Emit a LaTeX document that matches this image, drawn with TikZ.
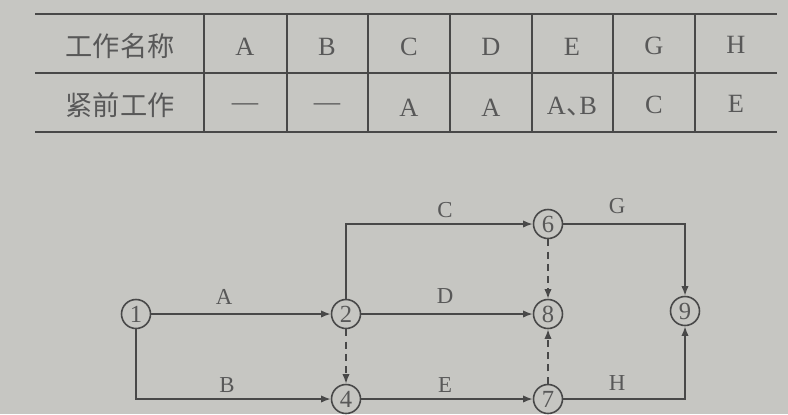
\documentclass[tikz,border=0pt]{standalone}
\usepackage{fontspec}
\setmainfont{Liberation Serif}
\newfontfamily\cjk{Noto Sans CJK SC}
\usetikzlibrary{arrows.meta}
\definecolor{bgc}{RGB}{198,198,194}
\definecolor{ink}{RGB}{72,72,72}
\definecolor{txt}{RGB}{88,88,88}
\tikzset{
  evt/.style={circle,draw=ink,line width=0.9pt,minimum size=0.58cm,inner sep=0pt,text=txt,font=\fontsize{14}{14}\selectfont},
  act/.style={draw=ink,line width=0.9pt,-{Latex[length=5.5pt,width=4.2pt]}},
  dum/.style={act,dash pattern=on 4pt off 3pt},
  lbl/.style={text=txt,font=\fontsize{13}{13}\selectfont,inner sep=0pt},
  cell/.style={text=txt,font=\fontsize{15}{15}\selectfont,inner sep=0pt},
  head/.style={text=txt,font=\cjk\fontsize{15.5}{15.5}\selectfont,inner sep=0pt},
  grid/.style={draw=ink,line width=1pt}
}
\begin{document}
\begin{tikzpicture}[x=0.02cm,y=-0.02cm]
\fill[bgc] (0,0) rectangle (788,414);
\useasboundingbox (0,0) rectangle (788,414);
\clip (0,0) rectangle (788,414);
% table
\draw[grid] (35,14) -- (777,14);
\draw[grid] (35,73) -- (777,73);
\draw[grid] (35,132) -- (777,132);
\foreach \x in {204,287,368,450,532,613,695}{\draw[grid] (\x,14) -- (\x,132);}
\node[head] (h0) at (120,46) {工作名称};
\node[head] (p0) at (120,105) {紧前工作};
\node[cell] (hA) at (245,47) {A};
\node[cell] (hB) at (327,47) {B};
\node[cell] (hC) at (409,47) {C};
\node[cell] (hD) at (491,47) {D};
\node[cell] (hE) at (572,47) {E};
\node[cell] (hG) at (654,46) {G};
\node[cell] (hH) at (736,45) {H};
\node[cell] (pA) at (245,107) {—};
\node[cell] (pB) at (327,107) {—};
\node[cell] (pC) at (409,108) {A};
\node[cell] (pD) at (491,108) {A};
\node[cell] (pE) at (572,107) {A\kern0.03em{\cjk 、}\kern-0.52em B};
\node[cell] (pG) at (654,105) {C};
\node[cell] (pH) at (736,104) {E};
% network
\node[evt] (n1) at (136,314) {1};
\node[evt] (n2) at (346,314) {2};
\node[evt] (n4) at (346,399) {4};
\node[evt] (n6) at (548,224) {6};
\node[evt] (n8) at (548,314) {8};
\node[evt] (n7) at (548,399) {7};
\node[evt] (n9) at (685,311) {9};
\draw[act] (n1) -- (n2);
\draw[act] (n1) |- (n4);
\draw[act] (n2) |- (n6);
\draw[act] (n2) -- (n8);
\draw[dum] (n2) -- (n4);
\draw[act] (n4) -- (n7);
\draw[dum] (n6) -- (n8);
\draw[dum] (n7) -- (n8);
\draw[act] (n6) -| (n9);
\draw[act] (n7) -| (n9);
\node[lbl] (lA) at (224,297) {A};
\node[lbl] (lB) at (227,385) {B};
\node[lbl] (lC) at (445,210) {C};
\node[lbl] (lD) at (445,296) {D};
\node[lbl] (lE) at (445,385) {E};
\node[lbl] (lG) at (617,206) {G};
\node[lbl] (lH) at (617,383) {H};
\end{tikzpicture}
\end{document}
